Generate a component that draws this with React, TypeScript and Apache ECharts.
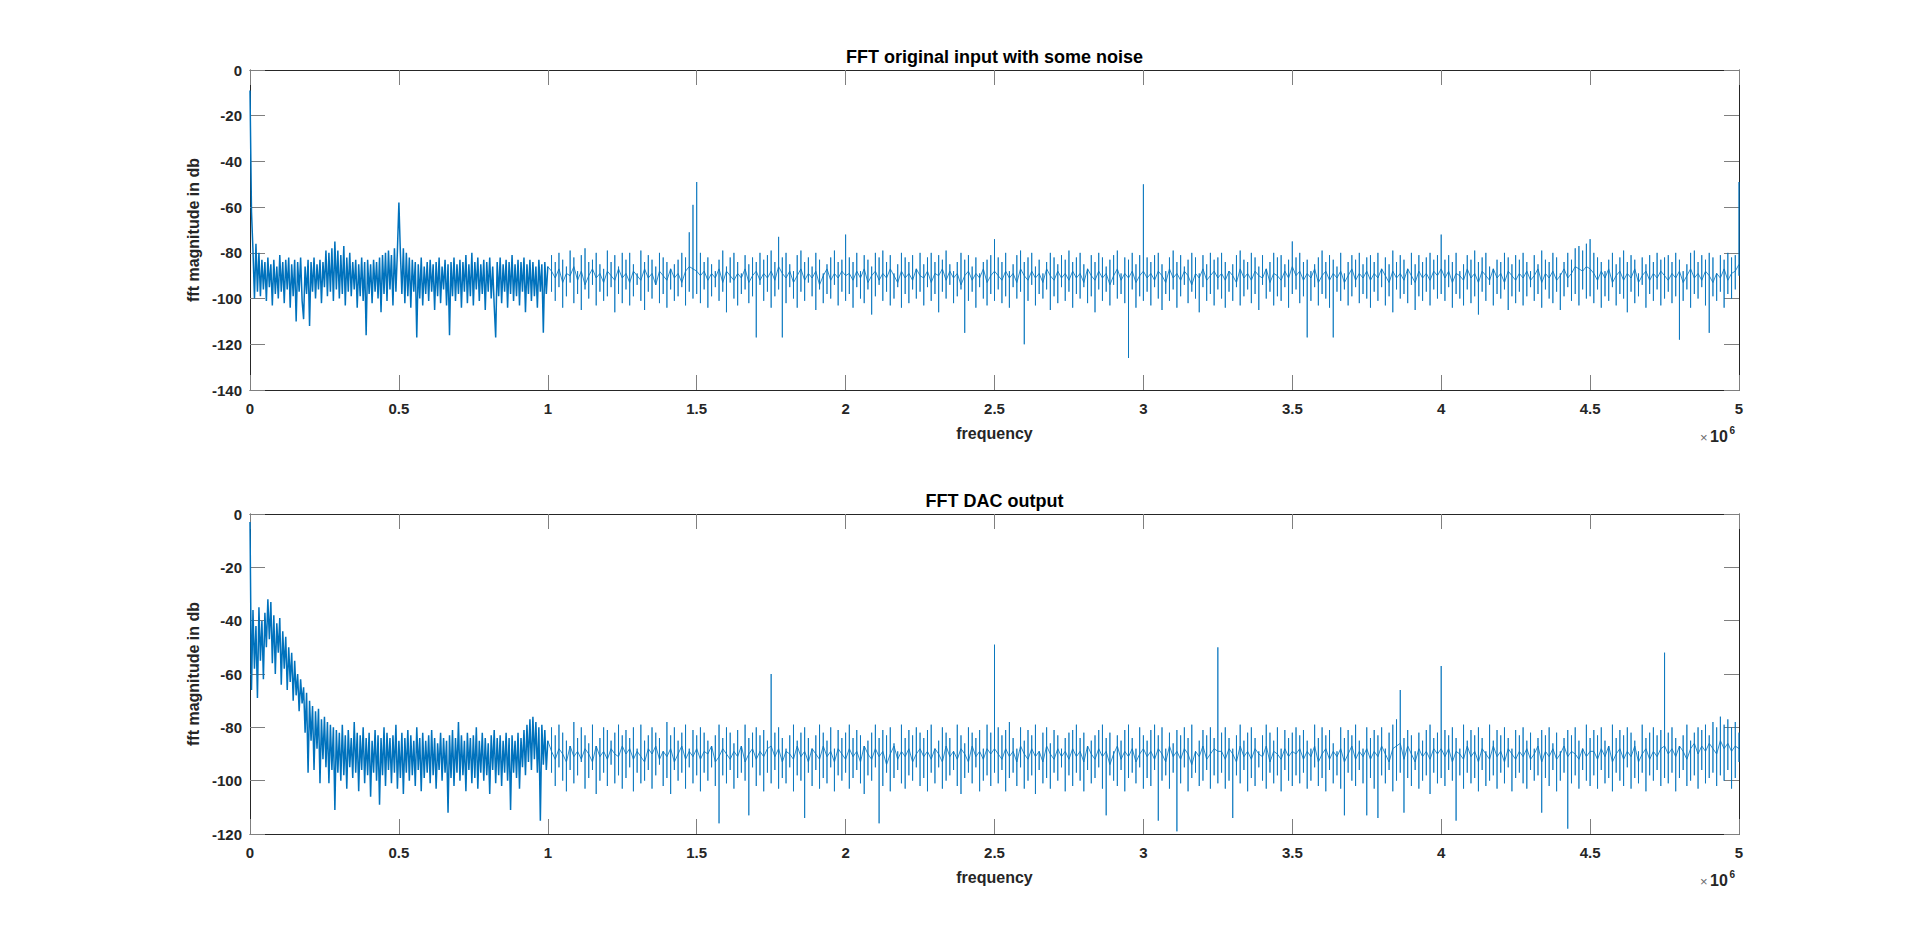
import React, { useEffect, useRef } from "react";
import * as echarts from "echarts";

// ---- axes ----
const X_MIN = 0;
const X_MAX = 5e6;
const X_STEP = 5e5;
const DENSE_END = 1e6; // densely sampled band ends here
const TOP_Y_MIN = -140;
const BOT_Y_MIN = -120;
const Y_MAX = 0;
const Y_STEP = 20;

const TOP_TITLE = "FFT original input with some noise";
const BOT_TITLE = "FFT DAC output";
const X_NAME = "frequency";
const Y_NAME = "fft magnitude in db";

// ---- top plot: dense band 0 .. 1e6 (uniform bins) ----
const TOP_LOW = [
  -9, -62, -79, -100, -76, -97, -80, -99, -83, -96,
  -84, -101, -82, -95, -85, -103, -83, -98, -86, -100,
  -81, -97, -84, -102, -83, -96, -82, -104, -85, -99,
  -83, -110, -84, -97, -82, -101, -109, -86, -98, -83,
  -112, -84, -97, -82, -100, -85, -96, -83, -102, -84,
  -95, -79, -99, -80, -97, -78, -101, -75, -96, -79,
  -100, -81, -98, -77, -103, -82, -97, -80, -99, -84,
  -96, -83, -104, -85, -99, -82, -101, -84, -116, -83,
  -98, -85, -102, -83, -97, -84, -100, -82, -106, -81,
  -98, -80, -101, -79, -96, -81, -103, -78, -97, -79,
  -58, -80, -98, -78, -102, -80, -99, -82, -104, -83,
  -97, -84, -117, -85, -100, -82, -103, -86, -98, -84,
  -101, -83, -97, -85, -105, -84, -99, -82, -102, -86,
  -96, -83, -103, -85, -116, -84, -99, -82, -101, -85,
  -98, -83, -104, -84, -97, -81, -102, -85, -99, -80,
  -103, -84, -96, -82, -101, -85, -98, -83, -105, -84,
  -97, -82, -100, -86, -103, -117, -84, -99, -82, -102,
  -85, -97, -83, -104, -84, -98, -81, -101, -85, -99,
  -83, -103, -84, -97, -82, -106, -85, -98, -83, -101,
  -84, -99, -86, -104, -83, -97, -85, -115, -84, -98,
  -86,
];

// ---- top plot: sparse part 1e6 .. 5e6, one vertical stroke per bin ----
const TOP_HI = [
  -81, -84, -80, -83, -86, -79, -82, -88, -81, -78, -84, -83, -80, -85, -87, -79, -84, -81, -86, -80,
  -83, -80, -85, -89, -79, -84, -81, -83, -86, -80, -82, -84, -88, -85, -83, -80, -82, -71, -59, -49,
  -80, -84, -82, -85, -88, -83, -79, -86, -82, -80, -84, -89, -81, -85, -82, -84, -80, -83, -81, -79,
  -84, -73, -82, -80, -85, -88, -81, -79, -84, -82, -86, -80, -83, -89, -85, -82, -79, -84, -83, -72,
  -82, -84, -80, -88, -81, -83, -86, -80, -82, -79, -84, -81, -89, -85, -80, -82, -84, -81, -88, -80,
  -85, -82, -80, -84, -81, -83, -79, -85, -88, -84, -80, -83, -81, -86, -82, -89, -84, -83, -81, -74,
  -82, -84, -80, -88, -85, -81, -79, -84, -82, -80, -86, -83, -89, -84, -80, -82, -85, -81, -83, -79,
  -84, -82, -80, -85, -88, -81, -84, -80, -82, -86, -83, -81, -79, -89, -82, -83, -80, -85, -81, -50,
  -82, -84, -81, -80, -85, -88, -82, -79, -84, -81, -86, -83, -80, -82, -89, -81, -85, -80, -83, -82,
  -80, -84, -88, -85, -81, -79, -83, -84, -80, -82, -86, -81, -89, -84, -80, -82, -81, -85, -83, -75,
  -82, -80, -84, -83, -88, -85, -82, -79, -84, -81, -83, -86, -80, -89, -84, -81, -83, -80, -85, -82,
  -81, -84, -80, -88, -82, -85, -79, -84, -81, -83, -89, -80, -85, -81, -84, -82, -80, -83, -81, -72,
  -83, -81, -84, -80, -88, -85, -81, -83, -79, -84, -82, -80, -86, -89, -83, -84, -80, -82, -85, -81,
  -83, -80, -84, -88, -81, -85, -79, -83, -84, -80, -82, -89, -84, -80, -83, -78, -77, -79, -76, -74,
  -80, -82, -84, -88, -83, -80, -85, -82, -79, -84, -81, -83, -89, -82, -85, -81, -84, -80, -83, -82,
  -81, -84, -80, -83, -88, -85, -80, -79, -84, -81, -83, -80, -82, -89, -81, -83, -80, -82, -81, -49,
];
const TOP_LO = [
  -97, -101, -95, -104, -99, -93, -102, -98, -105, -96, -100, -94, -103, -97, -101, -99, -95, -106, -98, -102,
  -96, -103, -99, -94, -101, -105, -97, -100, -93, -102, -98, -104, -96, -101, -99, -95, -103, -97, -100, -98,
  -102, -96, -104, -99, -95, -101, -97, -106, -93, -100, -103, -98, -96, -102, -99, -117, -94, -101, -97, -104,
  -99, -96, -117, -102, -95, -100, -104, -97, -101, -93, -99, -105, -96, -102, -98, -100, -94, -103, -97, -101,
  -98, -104, -95, -100, -102, -96, -107, -99, -94, -101, -97, -103, -100, -95, -104, -98, -102, -96, -100, -97,
  -103, -95, -101, -98, -106, -97, -100, -94, -102, -99, -96, -115, -101, -97, -104, -95, -100, -103, -98, -101,
  -96, -102, -99, -104, -95, -100, -97, -120, -101, -94, -103, -98, -100, -96, -105, -99, -102, -95, -101, -97,
  -104, -98, -100, -95, -102, -99, -106, -96, -101, -97, -103, -94, -100, -98, -102, -126, -96, -104, -99, -101,
  -97, -103, -95, -100, -105, -98, -101, -96, -104, -99, -94, -102, -97, -100, -106, -95, -101, -98, -103, -96,
  -100, -104, -97, -101, -95, -103, -99, -96, -102, -98, -105, -94, -100, -97, -103, -99, -101, -95, -104, -98,
  -96, -102, -99, -117, -101, -95, -103, -98, -100, -104, -117, -97, -101, -96, -103, -99, -95, -102, -98, -100,
  -104, -97, -101, -95, -103, -99, -106, -96, -100, -98, -102, -94, -105, -99, -101, -97, -103, -96, -100, -98,
  -101, -95, -104, -98, -100, -103, -96, -102, -99, -107, -97, -101, -94, -103, -98, -100, -96, -105, -99, -102,
  -97, -103, -99, -95, -101, -98, -104, -96, -100, -102, -97, -105, -99, -95, -101, -98, -103, -96, -100, -99,
  -102, -96, -104, -99, -101, -95, -103, -98, -100, -106, -97, -102, -99, -94, -104, -98, -101, -96, -103, -100,
  -97, -102, -99, -118, -101, -96, -104, -98, -100, -95, -103, -115, -99, -101, -97, -104, -98, -100, -96, -90,
];
const TOP_MID = [
  -88, -91, -87, -93, -89, -90, -86, -92, -88, -94, -90, -87, -91, -89, -93, -88, -90, -92, -87, -91,
  -89, -93, -88, -90, -92, -87, -91, -89, -94, -88, -90, -92, -87, -91, -89, -93, -88, -86, -87, -88,
  -90, -88, -92, -89, -91, -87, -93, -88, -90, -92, -89, -91, -87, -93, -90, -88, -92, -89, -91, -88,
  -92, -86, -89, -91, -88, -93, -90, -87, -92, -89, -91, -88, -94, -90, -87, -92, -89, -91, -88, -90,
  -89, -92, -88, -91, -87, -93, -90, -88, -92, -89, -91, -87, -90, -93, -88, -91, -89, -92, -87, -90,
  -91, -88, -93, -89, -90, -87, -92, -88, -91, -89, -94, -90, -88, -92, -89, -91, -87, -93, -90, -88,
  -90, -92, -88, -91, -89, -93, -87, -90, -92, -88, -91, -89, -93, -87, -90, -92, -88, -91, -89, -92,
  -88, -91, -89, -93, -87, -90, -92, -88, -91, -89, -94, -90, -87, -92, -89, -91, -88, -93, -90, -88,
  -91, -89, -92, -88, -90, -93, -87, -91, -89, -92, -88, -90, -94, -89, -91, -87, -92, -90, -88, -91,
  -89, -92, -88, -90, -93, -87, -91, -89, -92, -88, -90, -91, -87, -93, -89, -90, -92, -88, -91, -86,
  -90, -88, -92, -89, -91, -87, -93, -90, -88, -92, -89, -91, -88, -93, -90, -87, -92, -89, -91, -88,
  -92, -89, -91, -87, -90, -93, -88, -91, -89, -92, -87, -90, -93, -88, -91, -89, -92, -88, -90, -87,
  -91, -88, -93, -89, -90, -92, -87, -91, -89, -93, -88, -90, -92, -87, -91, -89, -93, -88, -90, -92,
  -89, -91, -88, -92, -90, -87, -93, -89, -91, -88, -92, -90, -87, -91, -89, -86, -87, -88, -86, -87,
  -89, -92, -88, -91, -87, -93, -90, -88, -92, -89, -91, -87, -93, -90, -88, -92, -89, -91, -88, -90,
  -92, -89, -91, -88, -93, -90, -87, -91, -89, -92, -88, -90, -93, -89, -91, -87, -92, -89, -88, -85,
];

// ---- bottom plot: dense band 0 .. 1e6 ----
const BOT_LOW = [
  -3, -66, -36, -58, -42, -69, -35, -55, -40, -62,
  -37, -50, -32, -47, -33, -56, -38, -60, -41, -52,
  -39, -64, -44, -58, -46, -66, -50, -63, -52, -70,
  -55, -68, -60, -74, -62, -71, -65, -82, -67, -97,
  -70, -85, -72, -96, -74, -88, -73, -101, -77, -92,
  -76, -95, -78, -101, -79, -96, -80, -111, -81, -97,
  -82, -100, -79, -98, -83, -103, -81, -95, -84, -99,
  -78, -97, -82, -104, -83, -96, -80, -101, -84, -98,
  -82, -106, -85, -97, -81, -100, -83, -109, -84, -98,
  -80, -102, -82, -96, -84, -101, -83, -97, -79, -103,
  -85, -99, -82, -105, -84, -97, -81, -100, -83, -98,
  -85, -102, -80, -96, -84, -104, -82, -99, -85, -97,
  -83, -101, -81, -98, -84, -103, -86, -96, -82, -100,
  -84, -97, -85, -112, -83, -99, -81, -102, -84, -97,
  -78, -100, -83, -98, -85, -104, -82, -96, -84, -101,
  -83, -99, -80, -103, -85, -97, -82, -100, -84, -98,
  -86, -105, -83, -96, -81, -101, -84, -98, -83, -102,
  -85, -97, -82, -100, -84, -111, -83, -97, -85, -99,
  -82, -103, -84, -95, -81, -98, -79, -93, -77, -96,
  -76, -92, -78, -97, -80, -115, -79, -94, -81, -96,
  -85,
];

// ---- bottom plot: sparse part 1e6 .. 5e6 ----
const BOT_HI = [
  -80, -83, -79, -82, -85, -88, -78, -84, -80, -83, -86, -79, -89, -84, -80, -81, -85, -82, -79, -83,
  -81, -84, -80, -88, -79, -85, -83, -80, -82, -84, -89, -78, -83, -80, -85, -82, -79, -88, -81, -83,
  -80, -82, -85, -88, -83, -79, -84, -80, -82, -86, -81, -89, -79, -84, -82, -80, -83, -81, -85, -60,
  -82, -80, -84, -88, -83, -79, -85, -82, -80, -84, -89, -83, -79, -82, -85, -80, -88, -81, -84, -82,
  -79, -84, -81, -83, -88, -85, -82, -79, -84, -81, -83, -80, -86, -89, -79, -84, -81, -83, -80, -82,
  -84, -81, -79, -88, -85, -80, -82, -84, -89, -79, -83, -86, -80, -82, -84, -81, -88, -79, -82, -49,
  -80, -83, -81, -78, -84, -88, -80, -85, -81, -83, -79, -89, -82, -80, -86, -81, -83, -88, -84, -82,
  -81, -79, -84, -82, -88, -85, -83, -81, -79, -84, -82, -89, -83, -85, -81, -79, -84, -88, -80, -83,
  -85, -81, -79, -83, -80, -88, -82, -86, -81, -83, -80, -84, -79, -89, -85, -81, -83, -80, -84, -50,
  -82, -80, -84, -88, -83, -79, -85, -82, -80, -84, -89, -83, -79, -82, -85, -80, -88, -81, -84, -82,
  -80, -83, -81, -85, -88, -79, -84, -80, -83, -81, -86, -89, -80, -84, -81, -83, -79, -85, -88, -80,
  -84, -81, -83, -80, -88, -82, -79, -77, -66, -84, -81, -83, -89, -82, -85, -81, -79, -84, -82, -57,
  -81, -83, -80, -84, -88, -79, -85, -81, -83, -80, -84, -89, -79, -85, -81, -83, -80, -84, -88, -81,
  -83, -80, -85, -82, -88, -84, -81, -83, -80, -86, -82, -89, -84, -81, -83, -80, -85, -88, -79, -84,
  -81, -83, -80, -85, -88, -79, -84, -81, -83, -80, -82, -85, -89, -79, -84, -82, -80, -83, -81, -52,
  -82, -80, -84, -88, -83, -79, -85, -82, -80, -81, -79, -83, -78, -80, -76, -79, -77, -80, -78, -82,
];
const BOT_LO = [
  -97, -102, -95, -100, -104, -96, -101, -98, -93, -103, -99, -96, -105, -100, -97, -102, -94, -101, -98, -103,
  -99, -95, -104, -97, -101, -100, -96, -103, -98, -94, -102, -99, -105, -96, -100, -97, -103, -95, -101, -98,
  -104, -97, -100, -95, -102, -116, -98, -101, -96, -103, -99, -97, -100, -113, -95, -102, -98, -104, -97, -101,
  -96, -103, -99, -101, -95, -104, -98, -100, -114, -97, -102, -96, -103, -99, -101, -95, -104, -98, -100, -97,
  -103, -99, -96, -101, -105, -98, -100, -95, -116, -102, -97, -104, -99, -96, -101, -103, -98, -100, -95, -102,
  -99, -104, -97, -101, -95, -103, -100, -98, -96, -102, -105, -99, -97, -101, -95, -104, -100, -98, -102, -97,
  -101, -96, -104, -99, -97, -102, -95, -103, -100, -98, -105, -96, -101, -99, -103, -97, -100, -95, -104, -98,
  -102, -97, -100, -104, -96, -101, -99, -95, -103, -113, -98, -100, -102, -96, -104, -99, -97, -101, -95, -103,
  -99, -102, -96, -115, -100, -98, -103, -97, -119, -101, -95, -104, -99, -97, -102, -100, -96, -103, -98, -101,
  -97, -103, -100, -114, -98, -101, -96, -104, -99, -102, -95, -100, -103, -97, -101, -98, -104, -96, -100, -102,
  -98, -101, -97, -103, -100, -95, -102, -99, -104, -96, -101, -98, -103, -113, -97, -100, -102, -96, -101, -113,
  -99, -103, -114, -98, -101, -96, -104, -100, -97, -112, -99, -102, -96, -103, -100, -98, -105, -97, -101, -99,
  -102, -96, -100, -115, -98, -103, -97, -101, -99, -104, -96, -102, -100, -98, -103, -97, -101, -95, -104, -99,
  -97, -101, -103, -96, -100, -98, -112, -99, -102, -96, -104, -100, -97, -118, -101, -98, -103, -96, -100, -102,
  -98, -103, -96, -101, -99, -104, -97, -100, -102, -95, -103, -99, -101, -97, -104, -98, -100, -96, -102, -99,
  -101, -97, -104, -99, -96, -102, -100, -98, -103, -96, -101, -99, -97, -102, -98, -100, -96, -103, -99, -93,
];
const BOT_MID = [
  -89, -92, -88, -90, -93, -87, -91, -89, -92, -88, -90, -93, -87, -91, -89, -92, -88, -90, -91, -87,
  -90, -88, -92, -89, -91, -93, -88, -90, -87, -92, -89, -91, -88, -93, -90, -87, -92, -89, -91, -88,
  -92, -89, -90, -87, -93, -91, -88, -90, -92, -89, -91, -87, -93, -90, -88, -92, -89, -91, -88, -87,
  -91, -88, -93, -89, -90, -92, -87, -91, -89, -93, -88, -90, -92, -87, -91, -89, -93, -88, -90, -92,
  -88, -91, -89, -93, -87, -90, -92, -88, -91, -89, -94, -90, -87, -92, -89, -91, -88, -93, -90, -88,
  -91, -89, -92, -88, -90, -93, -87, -91, -89, -92, -88, -90, -93, -87, -91, -89, -92, -88, -90, -88,
  -90, -92, -88, -91, -89, -93, -87, -90, -92, -88, -91, -89, -93, -87, -90, -92, -88, -91, -89, -92,
  -88, -91, -89, -93, -87, -90, -92, -88, -91, -89, -94, -90, -87, -92, -89, -91, -88, -93, -90, -88,
  -91, -89, -92, -88, -90, -93, -87, -91, -89, -92, -88, -90, -94, -89, -91, -87, -92, -90, -88, -89,
  -89, -92, -88, -90, -93, -87, -91, -89, -92, -88, -90, -91, -87, -93, -89, -90, -92, -88, -91, -89,
  -90, -88, -92, -89, -91, -87, -93, -90, -88, -92, -89, -91, -88, -93, -90, -87, -92, -89, -91, -88,
  -92, -89, -91, -87, -90, -93, -88, -87, -86, -92, -87, -90, -93, -88, -91, -89, -92, -88, -90, -88,
  -91, -88, -93, -89, -90, -92, -87, -91, -89, -93, -88, -90, -92, -87, -91, -89, -93, -88, -90, -92,
  -89, -91, -88, -92, -90, -87, -93, -89, -91, -88, -92, -90, -87, -91, -89, -90, -92, -88, -91, -89,
  -89, -92, -88, -91, -87, -93, -90, -88, -92, -89, -91, -87, -93, -90, -88, -92, -89, -91, -88, -87,
  -90, -88, -91, -87, -89, -92, -88, -86, -90, -87, -89, -86, -88, -90, -85, -88, -86, -89, -87, -88,
];

// [x, y] pairs of the dense bins 0 .. DENSE_END
function buildDense(dense: number[]) {
  const dStep = DENSE_END / (dense.length - 1);
  return dense.map((v, i) => [i * dStep, v]);
}

// sparse bins DENSE_END .. X_MAX, each bin drawn as mid -> hi -> lo -> mid
function buildSparse(dense: number[], hi: number[], lo: number[], mid: number[]) {
  const out: number[][] = [[DENSE_END, dense[dense.length - 1]]];
  const n = Math.min(hi.length, lo.length, mid.length);
  const sStep = (X_MAX - DENSE_END) / n;
  for (let k = 0; k < n; k++) {
    const x = DENSE_END + (k + 1) * sStep;
    out.push([x, mid[k]], [x, hi[k]], [x, lo[k]], [x, mid[k]]);
  }
  return out;
}

const FONT = "'Liberation Sans', Arial, Helvetica, sans-serif";
const TEXT = "#262626";
const AXIS = "#262626";
const TICK = "#7f7f7f";
const LINE = "#0072BD";

const GRID_LEFT = 250;
const GRID_WIDTH = 1489;
const GRID_H = 320;
const TOP_GRID_TOP = 70;
const BOT_GRID_TOP = 514;

function xAxes(gridIndex: number) {
  const base = {
    gridIndex,
    type: "value" as const,
    min: X_MIN,
    max: X_MAX,
    interval: X_STEP,
    splitLine: { show: false },
    axisLine: { show: true, onZero: false, lineStyle: { color: AXIS, width: 1 } },
    axisTick: { show: true, inside: true, length: 15, lineStyle: { color: TICK, width: 1 } },
  };
  return [
    {
      ...base,
      position: "bottom",
      axisLabel: {
        show: true,
        margin: 11,
        color: TEXT,
        fontFamily: FONT,
        fontSize: 15,
        fontWeight: "bold",
        formatter: (v: number) => String(v / 1e6),
      },
      name: X_NAME,
      nameLocation: "middle",
      nameGap: 35,
      nameTextStyle: { color: TEXT, fontFamily: FONT, fontSize: 16, fontWeight: "bold" },
    },
    { ...base, position: "top", axisLabel: { show: false } },
  ];
}

function yAxes(gridIndex: number, min: number) {
  const base = {
    gridIndex,
    type: "value" as const,
    min,
    max: Y_MAX,
    interval: Y_STEP,
    splitLine: { show: false },
    axisLine: { show: true, onZero: false, lineStyle: { color: AXIS, width: 1 } },
    axisTick: { show: true, inside: true, length: 15, lineStyle: { color: TICK, width: 1 } },
  };
  return [
    {
      ...base,
      position: "left",
      axisLabel: {
        show: true,
        margin: 8,
        color: TEXT,
        fontFamily: FONT,
        fontSize: 15,
        fontWeight: "bold",
      },
      name: Y_NAME,
      nameLocation: "middle",
      nameGap: 48,
      nameRotate: 90,
      nameTextStyle: { color: TEXT, fontFamily: FONT, fontSize: 16, fontWeight: "bold" },
    },
    { ...base, position: "right", axisLabel: { show: false } },
  ];
}

function exponentLabel(axisBottom: number) {
  return [
    {
      type: "text",
      x: 1700,
      y: axisBottom + 47.5,
      style: { text: "×", fill: "#6a6a6a", font: `13px ${FONT}`, align: "left", verticalAlign: "middle" },
    },
    {
      type: "text",
      x: 1710,
      y: axisBottom + 46,
      style: { text: "10", fill: TEXT, font: `bold 16px ${FONT}`, align: "left", verticalAlign: "middle" },
    },
    {
      type: "text",
      x: 1729.5,
      y: axisBottom + 40.5,
      style: { text: "6", fill: TEXT, font: `bold 10px ${FONT}`, align: "left", verticalAlign: "middle" },
    },
  ];
}

function lineSeries(xi: number, yi: number, data: number[][], width: number) {
  return {
    type: "line",
    xAxisIndex: xi,
    yAxisIndex: yi,
    data,
    showSymbol: false,
    symbol: "none",
    silent: true,
    lineStyle: { color: LINE, width },
    emphasis: { disabled: true },
  };
}

export default function App() {
  const ref = useRef<HTMLDivElement>(null);

  useEffect(() => {
    if (!ref.current) return;
    const chart = echarts.init(ref.current, undefined, { renderer: "svg" });
    const centerX = GRID_LEFT + GRID_WIDTH / 2;

    chart.setOption({
      animation: false,
      backgroundColor: "#ffffff",
      grid: [
        { left: GRID_LEFT, top: TOP_GRID_TOP, width: GRID_WIDTH, height: GRID_H, containLabel: false },
        { left: GRID_LEFT, top: BOT_GRID_TOP, width: GRID_WIDTH, height: GRID_H, containLabel: false },
      ],
      xAxis: [...xAxes(0), ...xAxes(1)],
      yAxis: [...yAxes(0, TOP_Y_MIN), ...yAxes(1, BOT_Y_MIN)],
      series: [
        lineSeries(0, 0, buildDense(TOP_LOW), 1.5),
        lineSeries(0, 0, buildSparse(TOP_LOW, TOP_HI, TOP_LO, TOP_MID), 0.8),
        lineSeries(2, 2, buildDense(BOT_LOW), 1.5),
        lineSeries(2, 2, buildSparse(BOT_LOW, BOT_HI, BOT_LO, BOT_MID), 0.8),
      ],
      graphic: [
        {
          type: "text",
          x: centerX,
          y: TOP_GRID_TOP - 13,
          style: { text: TOP_TITLE, fill: "#000", font: `bold 18px ${FONT}`, align: "center", verticalAlign: "middle" },
        },
        {
          type: "text",
          x: centerX,
          y: BOT_GRID_TOP - 13,
          style: { text: BOT_TITLE, fill: "#000", font: `bold 18px ${FONT}`, align: "center", verticalAlign: "middle" },
        },
        ...exponentLabel(TOP_GRID_TOP + GRID_H),
        ...exponentLabel(BOT_GRID_TOP + GRID_H),
      ],
    });

    return () => chart.dispose();
  }, []);

  return (
    <div
      ref={ref}
      style={{ position: "fixed", left: 0, top: 0, width: 1920, height: 936, background: "#fff" }}
    />
  );
}
